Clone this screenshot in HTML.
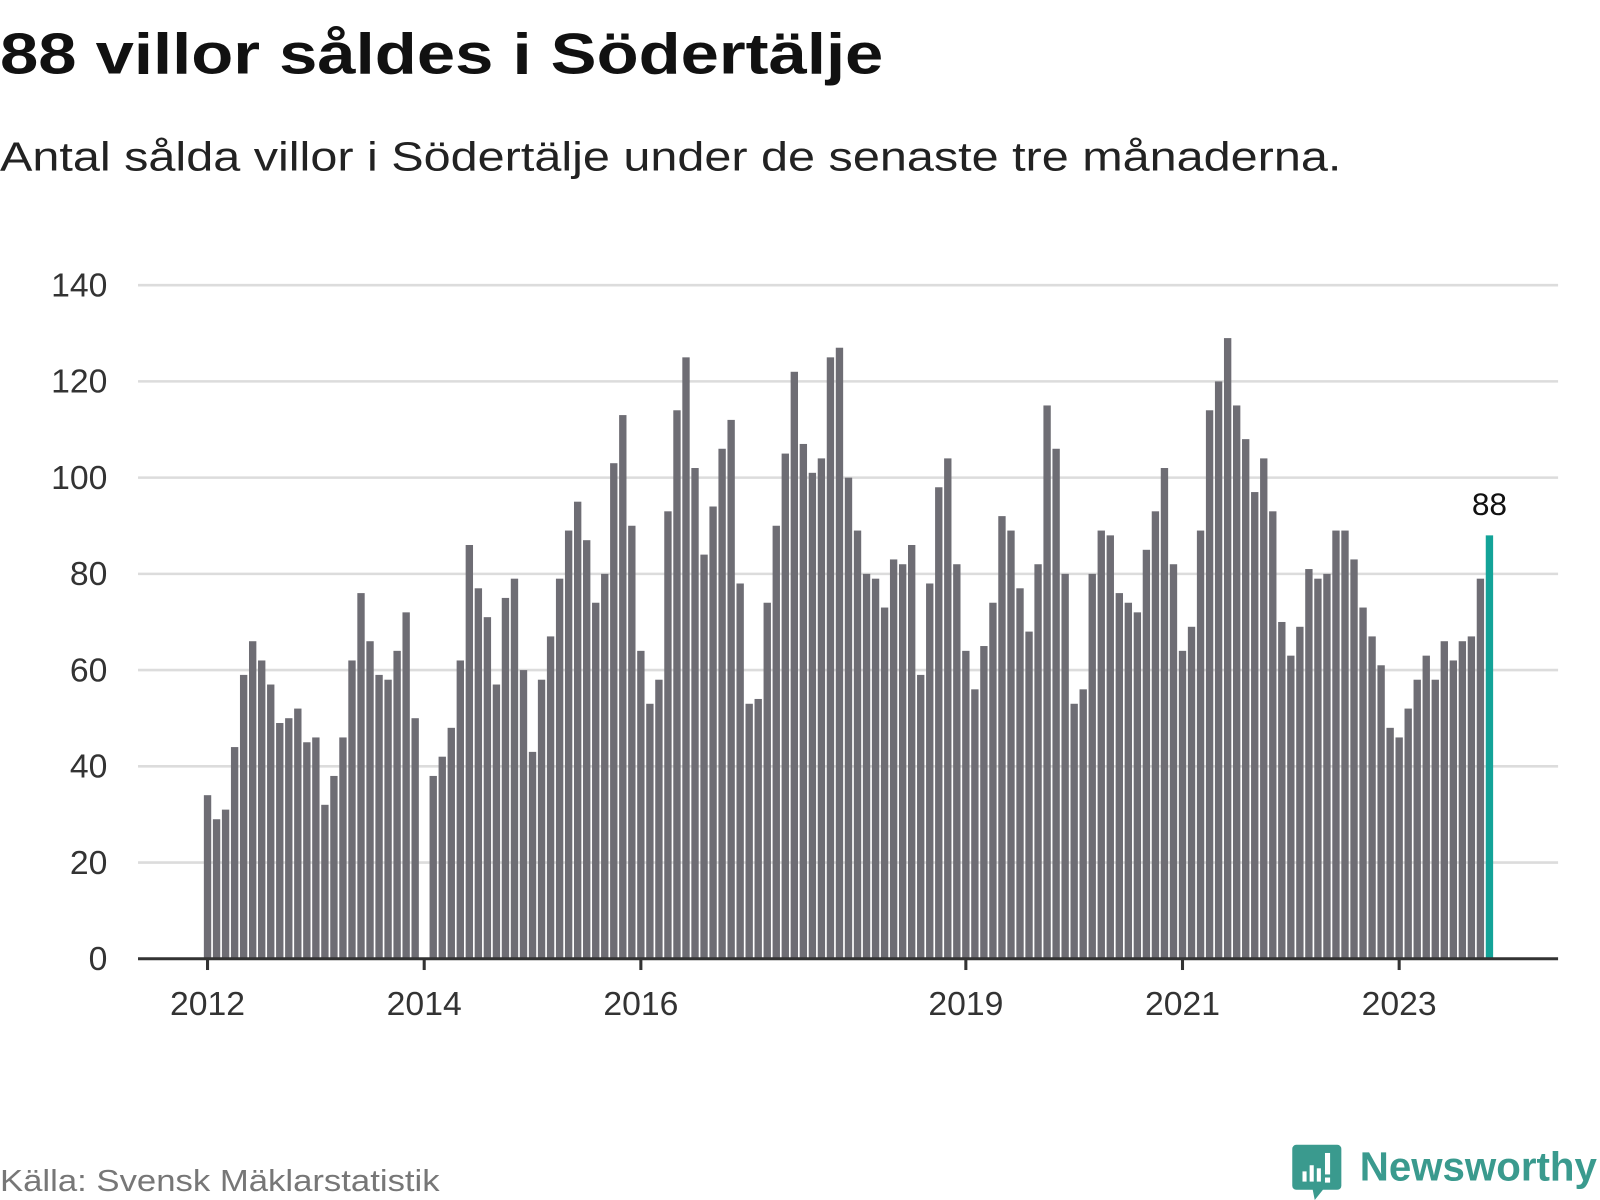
<!DOCTYPE html>
<html><head><meta charset="utf-8"><style>
html,body{margin:0;padding:0;background:#fff;}
svg{display:block;}
text{font-family:"Liberation Sans",sans-serif;}
</style></head><body>
<svg id="chart" width="1600" height="1200" viewBox="0 0 1565 1174" preserveAspectRatio="none" xmlns="http://www.w3.org/2000/svg">
<text x="0" y="72" font-size="56" font-weight="bold" fill="#111" textLength="864" lengthAdjust="spacingAndGlyphs">88 villor såldes i Södertälje</text>
<text x="0" y="167" font-size="40" fill="#222" textLength="1312" lengthAdjust="spacingAndGlyphs">Antal sålda villor i Södertälje under de senaste tre månaderna.</text>
<g id="grid"></g>
<g id="yticks"></g>
<g id="bars"></g>
<g id="xaxis"></g>
<text x="0" y="1165" font-size="30" fill="#777" textLength="430" lengthAdjust="spacingAndGlyphs">Källa: Svensk Mäklarstatistik</text>
<g>
<path d="M1268 1120 h40 a4 4 0 0 1 4 4 v36 a4 4 0 0 1 -4 4 h-14 l-8 10 l-2 -10 h-16 a4 4 0 0 1 -4 -4 v-36 a4 4 0 0 1 4 -4z" fill="#3a9a8e"/>
<rect x="1274" y="1146" width="4" height="10" fill="#fff"/>
<rect x="1281" y="1140" width="4" height="16" fill="#fff"/>
<rect x="1288" y="1143" width="4" height="13" fill="#fff"/>
<rect x="1296" y="1128" width="5" height="21" fill="#fff"/>
<rect x="1296" y="1152" width="5" height="5" fill="#fff"/>
<text x="1330" y="1155" font-size="40" font-weight="bold" fill="#3a9a8e" textLength="232" lengthAdjust="spacingAndGlyphs">Newsworthy</text>
</g>
</svg>
<script>
const values = [34,29,31,44,59,66,62,57,49,50,52,45,
46,32,38,46,62,76,66,59,58,64,72,50,
0,38,42,48,62,86,77,71,57,75,79,60,
43,58,67,79,89,95,87,74,80,103,113,90,
64,53,58,93,114,125,102,84,94,106,112,78,
53,54,74,90,105,122,107,101,104,125,127,100,
89,80,79,73,83,82,86,59,78,98,104,82,
64,56,65,74,92,89,77,68,82,115,106,80,
53,56,80,89,88,76,74,72,85,93,102,82,
64,69,89,114,120,129,115,108,97,104,93,70,
63,69,81,79,80,89,89,83,73,67,61,48,
46,52,58,63,58,66,62,66,67,79,88];
const yTicks = [0,20,40,60,80,100,120,140];
const xTickLabels = ["2012","2014","2016","2019","2021","2023"];
const xTickIndex = [0,24,48,84,108,132];
const highlightLabel = "88";

const NS="http://www.w3.org/2000/svg";
const x0=203, step=8.83, plotL=135, plotR=1524;
const yBase=938, yTop=279, yMax=140;
function xScale(i){return x0+i*step;}
function yScale(v){return yBase-(v/yMax)*(yBase-yTop);}
function mk(tag,attrs,parent){const e=document.createElementNS(NS,tag);for(const k in attrs)e.setAttribute(k,attrs[k]);parent.appendChild(e);return e;}

const grid=document.getElementById('grid'), yt=document.getElementById('yticks');
yTicks.forEach(v=>{
  if(v>0){const l=mk('line',{x1:plotL,x2:plotR,y1:yScale(v),y2:yScale(v),stroke:'#dcdcdc','stroke-width':2.5},grid);
  
  }
  const t=mk('text',{x:105,y:yScale(v)+11,'text-anchor':'end','font-size':33,fill:'#333'},yt);
  t.textContent=v;
  
  
});

const bars=document.getElementById('bars');
const last=values.length-1;
values.forEach((v,i)=>{
  if(v<=0)return;
  const r=mk('rect',{x:xScale(i)-3.6,y:yScale(v),width:7.2,height:yBase-yScale(v),fill:i===last?'#13a398':'#6e6d74'},bars);
  
  
});
const lbl=mk('text',{x:xScale(last),y:yScale(values[last])-20,'text-anchor':'middle','font-size':31,fill:'#111'},bars);
lbl.textContent=highlightLabel;



const xa=document.getElementById('xaxis');
const ax=mk('line',{x1:plotL,x2:plotR,y1:yBase,y2:yBase,stroke:'#333','stroke-width':3},xa);


xTickIndex.forEach((idx,k)=>{
  const tk=mk('line',{x1:xScale(idx),x2:xScale(idx),y1:yBase,y2:yBase+11,stroke:'#333','stroke-width':3},xa);
  
  
  const t=mk('text',{x:xScale(idx),y:yBase+55,'text-anchor':'middle','font-size':33,fill:'#333'},xa);
  t.textContent=xTickLabels[k];
  
  
});
</script>
</body></html>
